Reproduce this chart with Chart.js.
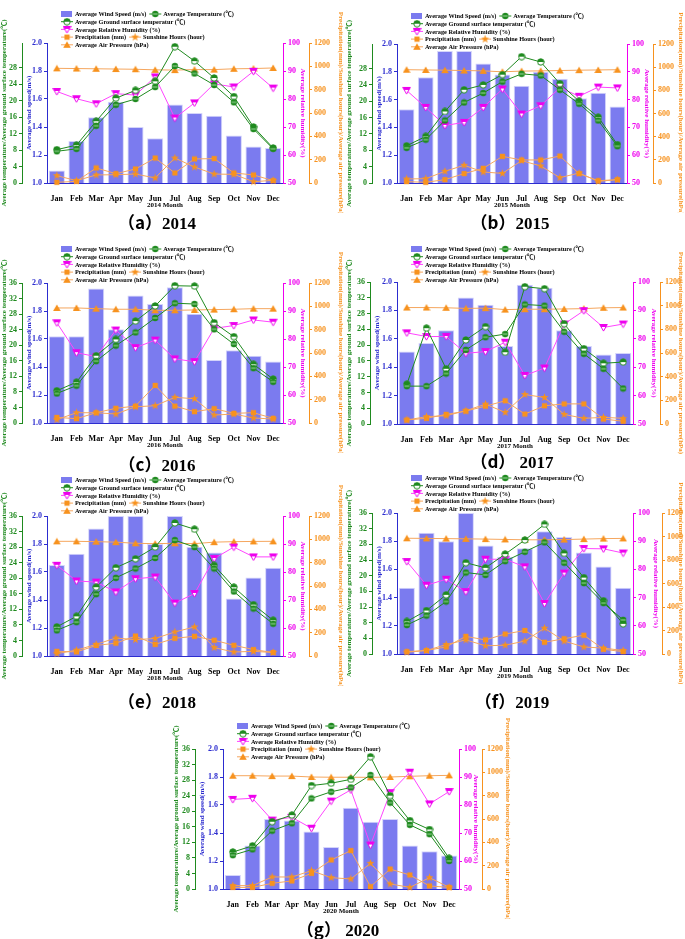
<!DOCTYPE html>
<html>
<head>
<meta charset="utf-8">
<script src="https://cdn.jsdelivr.net/npm/chart.js@4.4.1/dist/chart.umd.min.js"></script>
<style>
  html, body { margin: 0; padding: 0; background: #fff; }
  body { width: 685px; height: 939px; position: relative; overflow: hidden; }
  canvas { position: absolute; }
  .cap { position: absolute; font-size: 17px; font-weight: bold; white-space: nowrap; transform: translate(-50%, -50%); color: #000; }
  .cap .p { font-family: "Noto Sans CJK SC", sans-serif; font-weight: bold; }
  .cap .y { font-family: "Liberation Serif", "Times New Roman", serif; font-weight: bold; }
</style>
</head>
<body>
<script>
// ---- data ----
const months = ['Jan', 'Feb', 'Mar', 'Apr', 'May', 'Jun', 'Jul', 'Aug', 'Sep', 'Oct', 'Nov', 'Dec'];
const years = [2014, 2015, 2016, 2017, 2018, 2019, 2020];
const panelLetters = ['a', 'b', 'c', 'd', 'e', 'f', 'g'];

// average wind speed (m/s), one row per year
const windSpeed = [
  [1.09, 1.30, 1.47, 1.58, 1.40, 1.32, 1.56, 1.50, 1.48, 1.34, 1.26, 1.25],
  [1.53, 1.76, 1.95, 1.95, 1.86, 1.78, 1.70, 1.80, 1.75, 1.61, 1.65, 1.55],
  [1.62, 1.62, 1.96, 1.67, 1.91, 1.85, 1.97, 1.78, 1.45, 1.52, 1.48, 1.44],
  [1.51, 1.57, 1.66, 1.89, 1.84, 1.55, 1.98, 1.96, 1.66, 1.55, 1.49, 1.50],
  [1.65, 1.73, 1.91, 2.00, 2.00, 1.80, 2.00, 1.78, 1.74, 1.41, 1.56, 1.63],
  [1.47, 1.86, 1.80, 2.00, 1.77, 1.69, 1.75, 1.87, 1.83, 1.72, 1.62, 1.47],
  [1.10, 1.31, 1.50, 1.49, 1.41, 1.30, 1.58, 1.48, 1.50, 1.31, 1.27, 1.24]
];
// average temperature (℃)
const avgTemp = [
  [7.7, 8.3, 13.9, 19.0, 20.4, 23.3, 28.4, 26.6, 23.8, 19.6, 13.1, 8.3],
  [8.6, 10.6, 15.3, 19.7, 22.0, 24.8, 26.7, 26.3, 22.8, 19.4, 15.3, 9.0],
  [7.6, 9.6, 15.9, 19.9, 23.3, 27.0, 30.8, 30.6, 24.1, 20.3, 14.1, 10.6],
  [9.6, 9.6, 12.8, 18.8, 22.0, 22.8, 30.3, 30.0, 23.4, 17.8, 14.0, 9.0],
  [6.6, 8.7, 15.9, 20.1, 22.5, 25.2, 29.8, 28.0, 22.5, 16.6, 12.2, 8.3],
  [7.4, 9.8, 13.4, 20.8, 20.2, 23.7, 26.1, 28.5, 23.3, 18.1, 13.0, 8.7],
  [8.7, 10.2, 15.0, 16.9, 23.3, 25.0, 26.1, 29.3, 22.2, 16.5, 14.1, 7.2]
];
// average ground surface temperature (℃)
const groundTemp = [
  [8.1, 9.2, 15.0, 20.6, 22.5, 24.7, 33.1, 29.6, 25.5, 21.0, 13.6, 8.5],
  [9.1, 11.4, 17.5, 22.8, 24.0, 26.5, 30.9, 29.6, 24.3, 20.0, 16.1, 9.4],
  [8.3, 10.5, 17.3, 21.5, 26.2, 30.1, 35.3, 35.2, 25.8, 22.2, 15.1, 11.3],
  [10.1, 24.3, 14.0, 21.3, 24.7, 18.2, 34.8, 34.3, 25.4, 19.1, 15.4, 15.7],
  [7.5, 10.2, 17.7, 22.7, 25.0, 28.0, 34.2, 32.6, 23.3, 17.7, 13.2, 9.2],
  [8.3, 11.1, 15.1, 23.3, 22.0, 25.5, 29.1, 33.1, 25.7, 19.5, 13.6, 7.7],
  [9.5, 11.1, 17.3, 19.0, 26.6, 27.2, 28.2, 34.0, 24.0, 17.6, 15.3, 7.9]
];
// average relative humidity (%)
const humidity = [
  [82.7, 80.1, 78.3, 81.9, 81.4, 87.9, 73.2, 78.6, 85.4, 84.3, 89.9, 83.9],
  [83.3, 77.2, 70.7, 71.8, 77.2, 83.8, 74.8, 77.8, 84.3, 81.2, 84.5, 84.2],
  [85.8, 75.1, 73.7, 83.2, 76.9, 79.6, 72.9, 71.9, 83.8, 84.8, 86.8, 86.0],
  [82.1, 80.8, 80.8, 74.9, 75.5, 78.8, 67.1, 69.7, 85.2, 89.9, 84.0, 85.2],
  [82.4, 76.8, 76.4, 72.9, 77.6, 78.2, 68.9, 72.3, 84.8, 88.9, 85.4, 85.4],
  [82.8, 74.4, 76.5, 72.1, 83.6, 83.6, 80.9, 67.9, 78.7, 87.4, 87.3, 85.8],
  [82.0, 82.4, 74.6, 75.6, 71.7, 81.4, 85.4, 65.7, 84.4, 91.7, 80.4, 84.8]
];
// precipitation (mm)
const precipitation = [
  [6, 14, 129, 80, 120, 214, 86, 206, 209, 86, 69, 20],
  [12, 6, 29, 81, 127, 230, 199, 199, 233, 81, 20, 29],
  [48, 37, 88, 126, 145, 322, 145, 97, 123, 83, 88, 40],
  [34, 48, 81, 109, 151, 196, 84, 154, 170, 170, 42, 23],
  [40, 35, 90, 110, 171, 100, 152, 169, 135, 92, 55, 30],
  [20, 30, 60, 150, 120, 170, 200, 100, 130, 160, 40, 20],
  [14, 14, 49, 69, 134, 249, 329, 20, 171, 120, 26, 14]
];
// sunshine hours (hour)
const sunshine = [
  [63, 20, 69, 71, 77, 43, 214, 137, 77, 74, 11, 23],
  [35, 37, 101, 153, 95, 83, 193, 147, 46, 86, 14, 29],
  [29, 88, 88, 77, 139, 148, 220, 208, 68, 77, 43, 34],
  [34, 62, 70, 112, 168, 98, 249, 224, 81, 48, 56, 48],
  [20, 50, 100, 154, 140, 150, 206, 249, 72, 34, 40, 30],
  [15, 30, 80, 120, 70, 75, 110, 220, 110, 60, 50, 30],
  [29, 29, 103, 103, 157, 97, 86, 220, 43, 14, 97, 14]
];
// average air pressure (hPa)
const pressure = [
  [983, 981, 979, 977, 975, 970, 968, 972, 972, 979, 981, 986],
  [978, 976, 974, 971, 968, 960, 966, 968, 971, 974, 976, 978],
  [986, 986, 980, 975, 975, 966, 966, 969, 972, 975, 980, 980],
  [984, 984, 982, 977, 979, 967, 970, 970, 972, 975, 982, 984],
  [983, 983, 980, 976, 966, 963, 966, 963, 976, 980, 982, 983],
  [985, 984, 982, 980, 978, 975, 972, 972, 974, 978, 982, 984],
  [971, 971, 968, 968, 960, 958, 958, 957, 960, 966, 971, 974]
];
const tempMax = [34, 34, 36, 36, 36, 36, 36];

// ---- layout of each panel on the page ----
// L/R canvas edges, l/r/t/b plot area, gx/ox green + orange axis lines, ly first legend row, cx/cy caption
const panels = [
  { L: 0,   R: 345, l: 47,  r: 283, t: 43,  b: 183, gx: 22,  ox: 309, ly: 14,  cx: 157, cy: 221 },
  { L: 345, R: 685, l: 397, r: 627, t: 44,  b: 183, gx: 372, ox: 653, ly: 16,  cx: 510, cy: 221 },
  { L: 0,   R: 345, l: 47,  r: 283, t: 283, b: 423, gx: 22,  ox: 309, ly: 249, cx: 157, cy: 463 },
  { L: 345, R: 685, l: 397, r: 633, t: 282, b: 424, gx: 370, ox: 660, ly: 249, cx: 512, cy: 460 },
  { L: 0,   R: 345, l: 47,  r: 283, t: 516, b: 656, gx: 22,  ox: 309, ly: 480, cx: 157, cy: 700 },
  { L: 345, R: 685, l: 397, r: 633, t: 513, b: 654, gx: 372, ox: 662, ly: 478, cx: 512, cy: 700 },
  { L: 172, R: 512, l: 223, r: 459, t: 749, b: 889, gx: 195, ox: 482, ly: 726, cx: 338, cy: 928 }
];

const F = '"Liberation Serif", "Times New Roman", "Noto Sans CJK SC", serif';
const GREEN = '#1f8a1f', MAG = '#ee00ee', MAGL = '#ff44ff', ORG = '#f7921e', ORGL = '#f5a65e', BLUE = '#2c2ccf';
const BAR = '#7b7bef';
Chart.defaults.font.family = F;
Chart.defaults.font.weight = 'bold';

// marker images
function mk(size, draw) {
  const c = document.createElement('canvas');
  c.width = c.height = size;
  draw(c.getContext('2d'), size / 2);
  return c;
}
const ptAvg = mk(8, (g, c) => {
  g.beginPath(); g.arc(c, c, 3.2, 0, Math.PI * 2); g.fillStyle = GREEN; g.fill();
  g.fillStyle = '#9fd89f'; g.fillRect(c - 2.5, c - 0.5, 5, 1);
});
const ptGround = mk(8, (g, c) => {
  g.beginPath(); g.arc(c, c, 3.2, 0, Math.PI * 2); g.fillStyle = '#fff'; g.fill();
  g.beginPath(); g.arc(c, c, 3.2, Math.PI, Math.PI * 2); g.closePath(); g.fillStyle = GREEN; g.fill();
  g.beginPath(); g.arc(c, c, 3.2, 0, Math.PI * 2); g.strokeStyle = GREEN; g.lineWidth = 1; g.stroke();
});
const ptHum = mk(9, (g, c) => {
  g.beginPath(); g.moveTo(c - 3.8, c - 3); g.lineTo(c + 3.8, c - 3); g.lineTo(c, c + 3.6); g.closePath();
  g.fillStyle = '#fff'; g.fill();
  g.save(); g.clip(); g.fillStyle = MAG; g.fillRect(0, 0, 9, c - 0.5); g.restore();
  g.strokeStyle = MAG; g.lineWidth = 1; g.stroke();
});
const ptPrec = mk(7, (g, c) => { g.fillStyle = ORG; g.fillRect(c - 2.6, c - 2.6, 5.2, 5.2); });
const ptSun = mk(9, (g, c) => {
  g.beginPath();
  for (let k = 0; k < 10; k++) {
    const rr = k % 2 ? 1.7 : 4.2, a = -Math.PI / 2 + k * Math.PI / 5;
    g.lineTo(c + rr * Math.cos(a), c + rr * Math.sin(a));
  }
  g.closePath(); g.fillStyle = ORG; g.fill();
});
const ptPress = mk(8, (g, c) => {
  g.beginPath(); g.moveTo(c, c - 3.5); g.lineTo(c + 3.8, c + 3); g.lineTo(c - 3.8, c + 3); g.closePath();
  g.fillStyle = ORG; g.fill();
});

// custom legend laid out in rows like the original
const legendRows = [
  [{ bar: true, text: 'Average Wind Speed (m/s)' }, { pt: ptAvg, col: GREEN, text: 'Average Temperature (℃)' }],
  [{ pt: ptGround, col: GREEN, text: 'Average Ground surface temperatur (℃)' }],
  [{ pt: ptHum, col: MAGL, text: 'Average Relative Humidity (%)' }],
  [{ pt: ptPrec, col: ORGL, text: 'Precipitation (mm)' }, { pt: ptSun, col: ORGL, text: 'Sunshine Hours (hour)' }],
  [{ pt: ptPress, col: ORGL, text: 'Average Air Pressure (hPa)' }]
];
const rowLegend = {
  id: 'rowLegend',
  afterDraw(chart, args, opts) {
    const ctx = chart.ctx;
    ctx.save();
    ctx.font = 'bold 6.3px ' + F;
    ctx.textBaseline = 'middle';
    let y = opts.y;
    legendRows.forEach(row => {
      let x = chart.chartArea.left + 14;
      row.forEach(it => {
        if (it.bar) {
          ctx.fillStyle = BAR; ctx.fillRect(x, y - 3, 11, 6);
        } else {
          ctx.strokeStyle = it.col; ctx.lineWidth = 1;
          ctx.beginPath(); ctx.moveTo(x, y); ctx.lineTo(x + 12, y); ctx.stroke();
          ctx.drawImage(it.pt, x + 6 - it.pt.width / 2, y - it.pt.height / 2);
        }
        ctx.fillStyle = '#000';
        ctx.fillText(it.text, x + 14, y + 0.5);
        x += 14 + ctx.measureText(it.text).width + 3;
      });
      y += 7.7;
    });
    ctx.restore();
  }
};

function vAxis(pos, min, max, step, color, title, width, tpad, fmt) {
  return {
    type: 'linear', position: pos, min: min, max: max,
    ticks: { stepSize: step, color: color, font: { size: 8, weight: 'bold' }, padding: 2, callback: fmt },
    border: { display: true, color: color, width: 1 },
    grid: { display: true, drawOnChartArea: false, drawTicks: true, tickLength: 3, color: color },
    title: { display: true, text: title, color: color, font: { size: 7, weight: 'bold' }, padding: { top: tpad, bottom: 0 } },
    afterBuildTicks: s => { s.ticks = s.ticks.filter(t => Math.abs(t.value / step - Math.round(t.value / step)) < 1e-6); },
    afterFit: s => { s.width = width; }
  };
}

panels.forEach((p, i) => {
  const top = Math.max(0, p.t - 50), bottom = p.b + 30;
  const cv = document.createElement('canvas');
  cv.width = p.R - p.L; cv.height = bottom - top;
  cv.style.left = p.L + 'px'; cv.style.top = top + 'px';
  document.body.appendChild(cv);

  // caption: full-width brackets from the CJK font, year in the serif face
  const cap = document.createElement('div');
  cap.className = 'cap';
  const pSpan = document.createElement('span');
  pSpan.className = 'p'; pSpan.textContent = '（' + panelLetters[i] + '）';
  const ySpan = document.createElement('span');
  ySpan.className = 'y'; ySpan.textContent = (i === 3 || i === 6 ? ' ' : '') + years[i];
  cap.appendChild(pSpan); cap.appendChild(ySpan);
  cap.style.left = p.cx + 'px'; cap.style.top = p.cy + 'px';
  document.body.appendChild(cap);

  const lineDs = (label, data, axis, col, pt) => ({
    type: 'line', label: label, data: data, yAxisID: axis, borderColor: col, borderWidth: 1,
    pointStyle: pt, pointRadius: 4, tension: 0, fill: false, order: 1, clip: false
  });

  new Chart(cv, {
    data: {
      labels: months,
      datasets: [
        { type: 'bar', label: 'Average Wind Speed (m/s)', data: windSpeed[i], yAxisID: 'yW',
          backgroundColor: BAR, borderColor: '#d4d4fa', borderWidth: 1,
          categoryPercentage: 1, barPercentage: 0.82, order: 10 },
        lineDs('Average Temperature (℃)', avgTemp[i], 'yT', GREEN, ptAvg),
        lineDs('Average Ground surface temperatur (℃)', groundTemp[i], 'yT', GREEN, ptGround),
        lineDs('Average Relative Humidity (%)', humidity[i], 'yH', MAGL, ptHum),
        lineDs('Precipitation (mm)', precipitation[i], 'yP', ORGL, ptPrec),
        lineDs('Sunshine Hours (hour)', sunshine[i], 'yP', ORGL, ptSun),
        lineDs('Average Air Pressure (hPa)', pressure[i], 'yP', ORGL, ptPress)
      ]
    },
    options: {
      responsive: false, animation: false, devicePixelRatio: 1,
      layout: { autoPadding: false, padding: { top: p.t - top, left: 0, right: 0, bottom: 0 } },
      plugins: { legend: { display: false }, tooltip: { enabled: false }, rowLegend: { y: p.ly - top } },
      scales: {
        x: {
          type: 'category', offset: true,
          grid: { display: false },
          border: { display: true, color: BLUE, width: 1 },
          ticks: { color: '#000', font: { size: 8, weight: 'bold' }, padding: 3, maxRotation: 0, autoSkip: false },
          title: { display: true, text: years[i] + ' Month', color: '#000', font: { size: 7, weight: 'bold' }, padding: { top: 0, bottom: 4 } },
          afterFit: s => { s.height = bottom - p.b; }
        },
        yW: vAxis('left', 1, 2, 0.2, BLUE, 'Average wind speed(m/s)', p.l - p.gx, 3, v => v.toFixed(1)),
        yT: vAxis('left', 0, tempMax[i], 4, GREEN, 'Average temperature/Average ground surface temperature(℃)', p.gx - p.L, 0, v => v),
        yH: vAxis('right', 50, 100, 10, MAG, 'Average relative humidity(%)', p.ox - p.r, 2, v => v),
        yP: vAxis('right', 0, 1200, 200, ORG, 'Precipitation(mm)/Sunshine hours(hour)/Average air pressure(hPa)', p.R - p.ox, 0, v => v)
      }
    },
    plugins: [rowLegend]
  });
});
</script>
</body>
</html>
